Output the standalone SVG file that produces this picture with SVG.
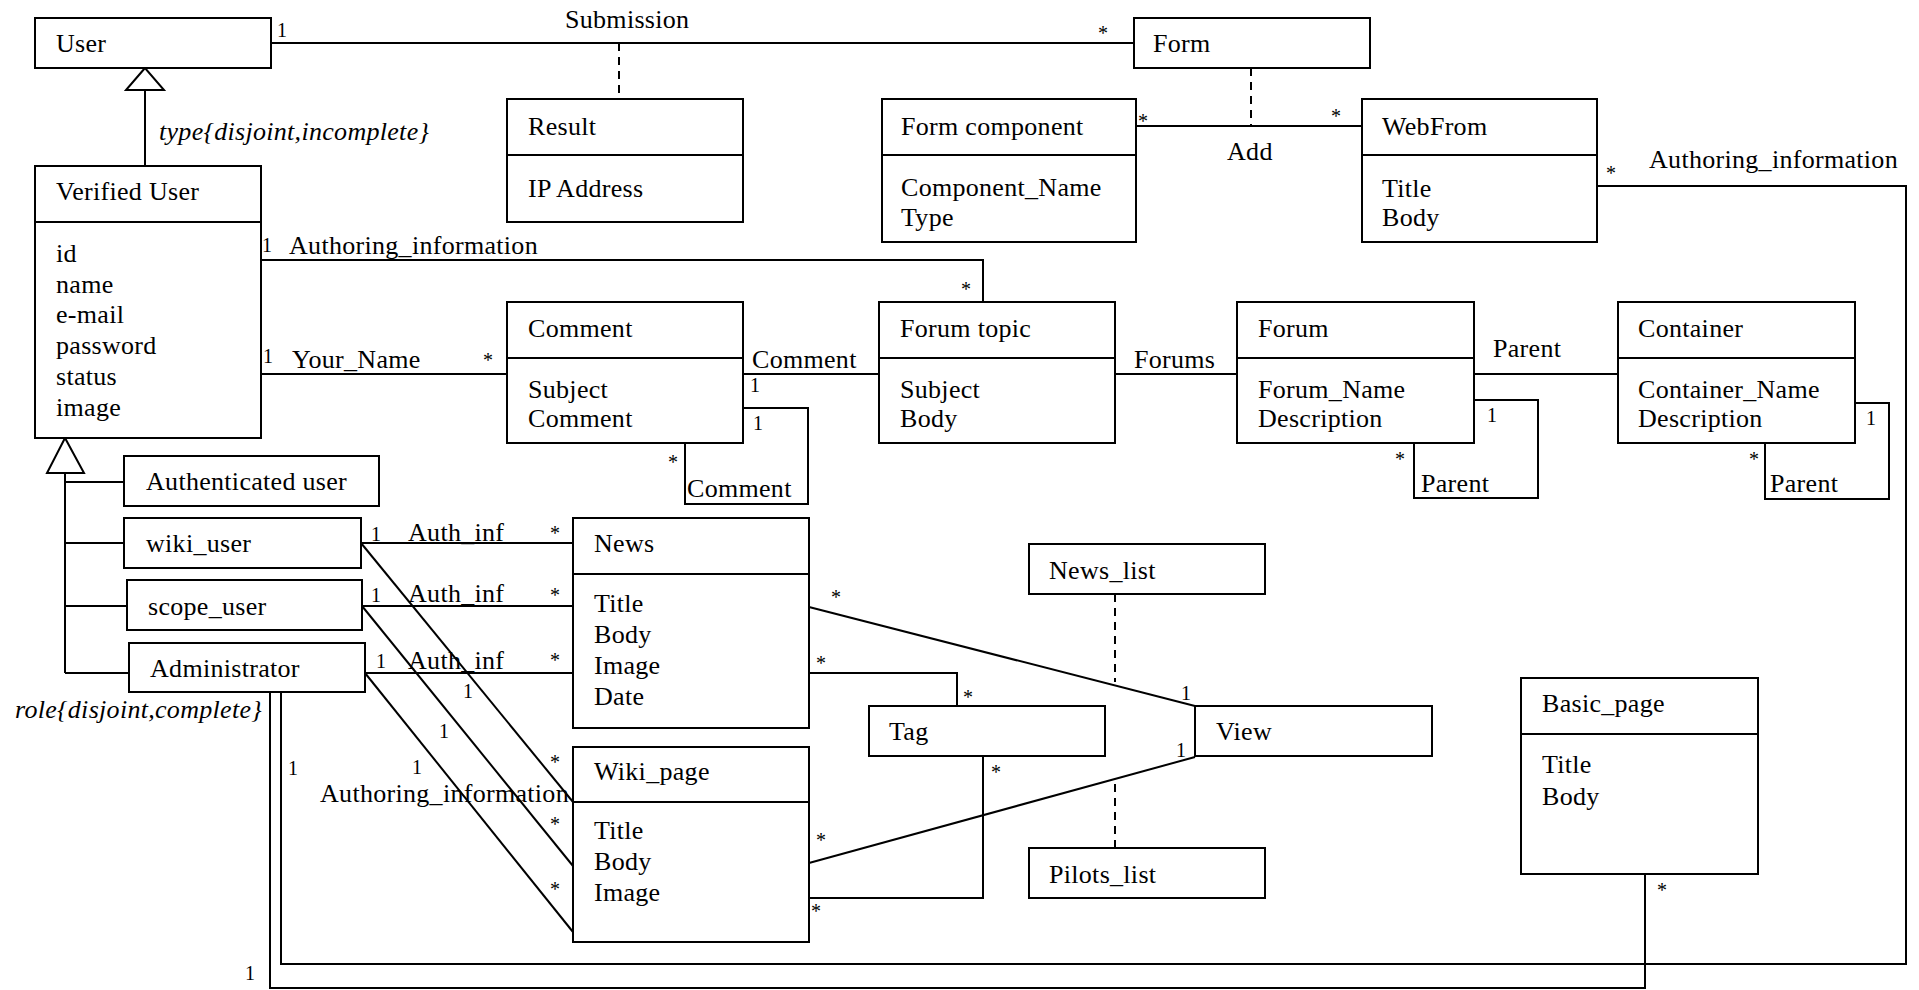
<svg xmlns="http://www.w3.org/2000/svg" width="1919" height="990" viewBox="0 0 1919 990">
<style>
text{font-family:"Liberation Serif","Times New Roman",serif;font-size:26px;letter-spacing:0.3px;fill:#000}
.m{font-size:20px;letter-spacing:0}
.i{font-style:italic}
.box{fill:#fff;stroke:#000;stroke-width:2}
.ln{fill:none;stroke:#000;stroke-width:2}
.dl{fill:none;stroke:#000;stroke-width:2;stroke-dasharray:8 6}
.tri{fill:#fff;stroke:#000;stroke-width:2}
</style>
<rect width="1919" height="990" fill="#fff"/>
<g id="connectors">
<line class="ln" x1="271" y1="43" x2="1134" y2="43"/>
<line class="dl" x1="619" y1="43" x2="619" y2="99"/>
<line class="ln" x1="145" y1="90" x2="145" y2="166"/>
<polygon class="tri" points="145,68 126,90 164,90"/>
<line class="ln" x1="1136" y1="126" x2="1362" y2="126"/>
<line class="dl" x1="1251" y1="68" x2="1251" y2="126"/>
<polyline class="ln" points="261,260 983,260 983,302"/>
<line class="ln" x1="261" y1="374" x2="507" y2="374"/>
<line class="ln" x1="743" y1="374" x2="879" y2="374"/>
<polyline class="ln" points="743,408 808,408 808,504 685,504 685,443"/>
<line class="ln" x1="1115" y1="374" x2="1237" y2="374"/>
<line class="ln" x1="1474" y1="374" x2="1618" y2="374"/>
<polyline class="ln" points="1474,400 1538,400 1538,498 1414,498 1414,443"/>
<polyline class="ln" points="1855,403 1889,403 1889,499 1765,499 1765,443"/>
<polyline class="ln" points="1597,186 1906,186 1906,964 281,964 281,692"/>
<polyline class="ln" points="1645,874 1645,988 270,988 270,692"/>
<line class="ln" x1="65" y1="473" x2="65" y2="673"/>
<polygon class="tri" points="65,438 47,473 84,473"/>
<line class="ln" x1="65" y1="482" x2="124" y2="482"/>
<line class="ln" x1="65" y1="543" x2="124" y2="543"/>
<line class="ln" x1="65" y1="606" x2="127" y2="606"/>
<line class="ln" x1="65" y1="673" x2="129" y2="673"/>
<line class="ln" x1="361" y1="543" x2="573" y2="543"/>
<line class="ln" x1="362" y1="606" x2="573" y2="606"/>
<line class="ln" x1="365" y1="673" x2="573" y2="673"/>
<line class="ln" x1="361" y1="543" x2="573" y2="802"/>
<line class="ln" x1="362" y1="606" x2="573" y2="866"/>
<line class="ln" x1="365" y1="673" x2="573" y2="932"/>
<line class="ln" x1="809" y1="607" x2="1195" y2="706"/>
<polyline class="ln" points="809,673 957,673 957,706"/>
<line class="ln" x1="809" y1="863" x2="1195" y2="757"/>
<polyline class="ln" points="809,898 983,898 983,756"/>
<line class="dl" x1="1115" y1="594" x2="1115" y2="682"/>
<line class="dl" x1="1115" y1="848" x2="1115" y2="780"/>
<text x="565" y="28">Submission</text>
<text class="m" x="277" y="37">1</text>
<text class="m" x="1098" y="40">*</text>
<text class="i" x="159" y="140">type{disjoint,incomplete}</text>
<text x="1227" y="160">Add</text>
<text class="m" x="1138" y="128">*</text>
<text class="m" x="1331" y="123">*</text>
<text class="m" x="1606" y="180">*</text>
<text x="1649" y="168">Authoring_information</text>
<text class="m" x="262" y="252">1</text>
<text x="289" y="254">Authoring_information</text>
<text class="m" x="961" y="296">*</text>
<text class="m" x="263" y="363">1</text>
<text x="292" y="368">Your_Name</text>
<text class="m" x="483" y="367">*</text>
<text x="752" y="368">Comment</text>
<text class="m" x="750" y="392">1</text>
<text class="m" x="753" y="430">1</text>
<text class="m" x="668" y="469">*</text>
<text x="687" y="497">Comment</text>
<text x="1134" y="368">Forums</text>
<text x="1493" y="357">Parent</text>
<text class="m" x="1487" y="422">1</text>
<text class="m" x="1395" y="466">*</text>
<text x="1421" y="492">Parent</text>
<text class="m" x="1866" y="425">1</text>
<text class="m" x="1749" y="466">*</text>
<text x="1770" y="492">Parent</text>
<text class="i" x="15" y="718">role{disjoint,complete}</text>
<text class="m" x="371" y="541">1</text>
<text x="408" y="541">Auth_inf</text>
<text class="m" x="550" y="540">*</text>
<text class="m" x="371" y="602">1</text>
<text x="408" y="602">Auth_inf</text>
<text class="m" x="550" y="602">*</text>
<text class="m" x="376" y="668">1</text>
<text x="408" y="669">Auth_inf</text>
<text class="m" x="550" y="667">*</text>
<text class="m" x="463" y="698">1</text>
<text class="m" x="439" y="738">1</text>
<text class="m" x="412" y="774">1</text>
<text class="m" x="288" y="775">1</text>
<text x="320" y="802">Authoring_information</text>
<text class="m" x="550" y="769">*</text>
<text class="m" x="550" y="831">*</text>
<text class="m" x="550" y="896">*</text>
<text class="m" x="831" y="604">*</text>
<text class="m" x="816" y="670">*</text>
<text class="m" x="963" y="704">*</text>
<text class="m" x="1181" y="700">1</text>
<text class="m" x="816" y="847">*</text>
<text class="m" x="1176" y="757">1</text>
<text class="m" x="991" y="779">*</text>
<text class="m" x="811" y="918">*</text>
<text class="m" x="1657" y="897">*</text>
<text class="m" x="245" y="980">1</text>
</g>
<g id="User"><rect class="box" x="35" y="18" width="236" height="50"/><text x="56" y="52">User</text></g>
<g id="VerifiedUser"><rect class="box" x="35" y="166" width="226" height="272"/><line class="ln" x1="35" y1="222" x2="261" y2="222"/><text x="56" y="200">Verified User</text><text x="56" y="262">id</text><text x="56" y="293">name</text><text x="56" y="323">e-mail</text><text x="56" y="354">password</text><text x="56" y="385">status</text><text x="56" y="416">image</text></g>
<g id="Result"><rect class="box" x="507" y="99" width="236" height="123"/><line class="ln" x1="507" y1="155" x2="743" y2="155"/><text x="528" y="135">Result</text><text x="528" y="197">IP Address</text></g>
<g id="Form"><rect class="box" x="1134" y="18" width="236" height="50"/><text x="1153" y="52">Form</text></g>
<g id="FormComponent"><rect class="box" x="882" y="99" width="254" height="143"/><line class="ln" x1="882" y1="155" x2="1136" y2="155"/><text x="901" y="135">Form component</text><text x="901" y="196">Component_Name</text><text x="901" y="226">Type</text></g>
<g id="WebFrom"><rect class="box" x="1362" y="99" width="235" height="143"/><line class="ln" x1="1362" y1="155" x2="1597" y2="155"/><text x="1382" y="135">WebFrom</text><text x="1382" y="197">Title</text><text x="1382" y="226">Body</text></g>
<g id="Comment"><rect class="box" x="507" y="302" width="236" height="141"/><line class="ln" x1="507" y1="358" x2="743" y2="358"/><text x="528" y="337">Comment</text><text x="528" y="398">Subject</text><text x="528" y="427">Comment</text></g>
<g id="ForumTopic"><rect class="box" x="879" y="302" width="236" height="141"/><line class="ln" x1="879" y1="358" x2="1115" y2="358"/><text x="900" y="337">Forum topic</text><text x="900" y="398">Subject</text><text x="900" y="427">Body</text></g>
<g id="Forum"><rect class="box" x="1237" y="302" width="237" height="141"/><line class="ln" x1="1237" y1="358" x2="1474" y2="358"/><text x="1258" y="337">Forum</text><text x="1258" y="398">Forum_Name</text><text x="1258" y="427">Description</text></g>
<g id="Container"><rect class="box" x="1618" y="302" width="237" height="141"/><line class="ln" x1="1618" y1="358" x2="1855" y2="358"/><text x="1638" y="337">Container</text><text x="1638" y="398">Container_Name</text><text x="1638" y="427">Description</text></g>
<g id="AuthenticatedUser"><rect class="box" x="124" y="456" width="255" height="50"/><text x="146" y="490">Authenticated user</text></g>
<g id="WikiUser"><rect class="box" x="124" y="518" width="237" height="50"/><text x="146" y="552">wiki_user</text></g>
<g id="ScopeUser"><rect class="box" x="127" y="580" width="235" height="50"/><text x="148" y="615">scope_user</text></g>
<g id="Administrator"><rect class="box" x="129" y="643" width="236" height="49"/><text x="150" y="677">Administrator</text></g>
<g id="News"><rect class="box" x="573" y="518" width="236" height="210"/><line class="ln" x1="573" y1="574" x2="809" y2="574"/><text x="594" y="552">News</text><text x="594" y="612">Title</text><text x="594" y="643">Body</text><text x="594" y="674">Image</text><text x="594" y="705">Date</text></g>
<g id="WikiPage"><rect class="box" x="573" y="747" width="236" height="195"/><line class="ln" x1="573" y1="802" x2="809" y2="802"/><text x="594" y="780">Wiki_page</text><text x="594" y="839">Title</text><text x="594" y="870">Body</text><text x="594" y="901">Image</text></g>
<g id="Tag"><rect class="box" x="869" y="706" width="236" height="50"/><text x="889" y="740">Tag</text></g>
<g id="View"><rect class="box" x="1195" y="706" width="237" height="50"/><text x="1216" y="740">View</text></g>
<g id="NewsList"><rect class="box" x="1029" y="544" width="236" height="50"/><text x="1049" y="579">News_list</text></g>
<g id="PilotsList"><rect class="box" x="1029" y="848" width="236" height="50"/><text x="1049" y="883">Pilots_list</text></g>
<g id="BasicPage"><rect class="box" x="1521" y="678" width="237" height="196"/><line class="ln" x1="1521" y1="734" x2="1758" y2="734"/><text x="1542" y="712">Basic_page</text><text x="1542" y="773">Title</text><text x="1542" y="805">Body</text></g>
</svg>
